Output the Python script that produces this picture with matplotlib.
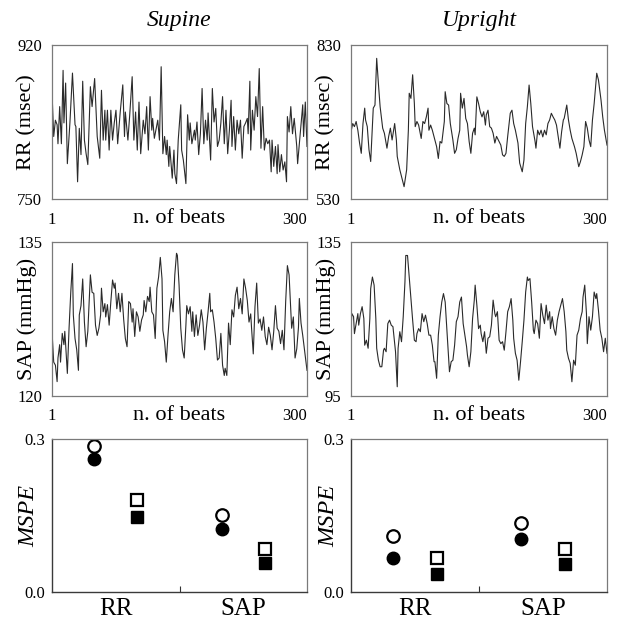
#!/usr/bin/env python3

import matplotlib
matplotlib.use('Agg')
import matplotlib.pyplot as plt

plt.rcParams['font.family'] = ['Liberation Serif', 'DejaVu Serif']

# --- time series (beat index, value) ---
rr_supine_beat = [1, 3, 5, 7, 8, 10, 12, 14, 15, 17, 19, 22, 25, 28, 29, 31, 33, 35, 37, 39,
                  41, 43, 46, 48, 51, 54, 57, 59, 61, 63, 64, 66, 68, 70, 72, 74, 76, 78, 81, 84,
                  86, 87, 90, 92, 95, 97, 99, 101, 103, 105, 108, 110, 112, 114, 116, 118, 119, 121, 125, 127,
                  129, 131, 133, 135, 136, 138, 139, 142, 144, 145, 147, 149, 152, 153, 155, 158, 160, 162, 163, 165,
                  168, 169, 171, 173, 175, 177, 179, 181, 183, 184, 187, 189, 191, 193, 195, 197, 199, 201, 203, 205,
                  207, 209, 211, 212, 214, 216, 218, 220, 222, 224, 226, 228, 230, 231, 233, 234, 236, 238, 240, 242,
                  244, 246, 248, 250, 252, 254, 256, 258, 259, 261, 263, 265, 266, 268, 270, 272, 274, 276, 277, 279,
                  281, 283, 285, 288, 289, 291, 293, 295, 296, 298, 300]
rr_supine = [868, 819, 837, 832, 811, 852, 811, 892, 834, 878, 789, 834, 889, 832, 830, 769, 828, 799, 880, 815,
             800, 788, 874, 852, 883, 819, 795, 870, 815, 848, 815, 848, 804, 848, 815, 834, 848, 811, 846, 876,
             819, 846, 815, 841, 885, 815, 846, 804, 857, 800, 837, 822, 852, 804, 863, 826, 839, 817, 837, 815,
             896, 800, 819, 799, 815, 786, 808, 773, 804, 778, 767, 815, 854, 804, 793, 767, 843, 815, 834, 811,
             826, 815, 835, 799, 822, 872, 811, 837, 815, 845, 793, 872, 835, 850, 808, 815, 834, 863, 811, 848,
             800, 826, 859, 808, 841, 804, 837, 822, 837, 795, 830, 834, 839, 822, 880, 804, 848, 826, 863, 841,
             894, 806, 852, 804, 817, 811, 815, 780, 815, 786, 808, 778, 810, 780, 799, 782, 791, 769, 841, 824,
             852, 822, 839, 808, 789, 811, 834, 854, 819, 857, 808]

rr_upright_beat = [1, 3, 5, 7, 9, 11, 13, 15, 17, 18, 20, 22, 24, 27, 29, 31, 33, 35, 38, 40,
                   43, 45, 47, 49, 52, 54, 55, 58, 61, 63, 66, 68, 69, 71, 73, 75, 76, 78, 80, 83,
                   85, 87, 89, 91, 92, 94, 96, 98, 101, 103, 105, 107, 110, 111, 113, 115, 117, 120, 122, 124,
                   126, 128, 129, 131, 133, 135, 137, 139, 141, 143, 145, 146, 148, 150, 152, 154, 156, 158, 159, 161,
                   163, 165, 167, 169, 171, 173, 176, 178, 180, 182, 184, 187, 189, 191, 193, 196, 198, 201, 203, 205,
                   207, 209, 211, 213, 216, 217, 219, 221, 223, 225, 227, 229, 231, 233, 235, 237, 239, 241, 243, 245,
                   247, 249, 250, 253, 255, 257, 259, 262, 264, 267, 269, 271, 273, 275, 277, 279, 281, 283, 285, 288,
                   290, 293, 295, 297, 300]
rr_upright = [661, 677, 671, 681, 664, 639, 619, 677, 707, 684, 671, 626, 603, 707, 713, 804, 755, 710, 668, 658,
              629, 652, 668, 645, 677, 645, 613, 587, 567, 554, 587, 664, 736, 726, 772, 716, 671, 681, 674, 648,
              681, 677, 690, 707, 664, 674, 664, 651, 632, 609, 642, 639, 681, 739, 716, 713, 677, 645, 619, 626,
              648, 664, 736, 707, 726, 687, 677, 642, 619, 658, 668, 655, 729, 716, 700, 690, 700, 674, 694, 703,
              671, 668, 658, 639, 652, 645, 635, 616, 613, 619, 652, 697, 703, 677, 664, 639, 600, 583, 606, 677,
              710, 752, 716, 671, 642, 629, 664, 655, 664, 651, 664, 655, 677, 684, 697, 690, 684, 674, 651, 629,
              661, 684, 687, 713, 684, 664, 648, 632, 619, 593, 603, 616, 632, 681, 668, 645, 632, 684, 716, 775,
              762, 723, 690, 664, 635]

sap_supine_beat = [1, 3, 5, 7, 8, 10, 11, 13, 15, 16, 17, 19, 21, 23, 25, 26, 28, 30, 32, 33,
                   35, 37, 39, 41, 43, 45, 46, 48, 50, 52, 54, 56, 58, 59, 61, 63, 64, 66, 68, 70,
                   72, 74, 75, 77, 79, 81, 83, 85, 87, 89, 91, 93, 95, 96, 98, 100, 102, 104, 106, 108,
                   109, 111, 113, 115, 116, 118, 120, 122, 124, 126, 128, 130, 131, 133, 135, 137, 139, 141, 143, 145,
                   147, 148, 150, 152, 154, 156, 158, 159, 161, 163, 165, 166, 168, 170, 172, 174, 176, 178, 180, 182,
                   184, 186, 187, 189, 191, 193, 195, 197, 199, 201, 203, 204, 206, 208, 210, 212, 214, 216, 218, 220,
                   222, 224, 226, 228, 230, 232, 234, 235, 237, 239, 241, 243, 245, 247, 249, 251, 253, 255, 257, 259,
                   261, 263, 265, 267, 269, 271, 273, 275, 277, 279, 280, 282, 284, 286, 288, 290, 291, 293, 295, 300]
sap_supine = [126.3, 123.3, 123.0, 121.4, 123.7, 125.0, 123.3, 126.1, 125.0, 126.3, 125.0, 122.2, 126.6, 130.1, 132.9, 127.9, 125.6, 124.5, 122.5, 127.9,
              128.8, 131.4, 127.2, 124.8, 126.3, 130.1, 131.8, 130.1, 130.0, 126.9, 125.9, 126.6, 127.9, 130.5, 128.2, 129.0, 127.7, 128.9, 126.9, 129.2,
              131.3, 130.5, 131.0, 128.5, 130.0, 128.2, 130.0, 127.5, 125.6, 124.8, 129.2, 129.0, 127.2, 128.5, 125.8, 128.2, 127.7, 126.3, 127.4, 127.9,
              129.3, 128.2, 129.7, 129.2, 130.6, 128.2, 127.9, 125.6, 130.5, 131.6, 133.5, 131.4, 126.4, 125.3, 123.3, 125.9, 128.2, 129.5, 128.2, 131.8,
              133.9, 133.7, 130.8, 126.6, 124.5, 123.7, 126.9, 128.8, 128.0, 128.7, 126.3, 128.2, 125.8, 127.9, 125.9, 126.9, 128.4, 127.2, 124.5, 126.6,
              128.2, 130.0, 128.2, 128.4, 127.2, 125.6, 123.5, 123.7, 126.1, 123.0, 122.0, 122.7, 122.0, 127.1, 125.0, 128.4, 127.7, 129.8, 130.6, 128.5,
              129.5, 128.0, 131.4, 130.5, 129.3, 127.2, 128.0, 126.6, 124.1, 128.7, 131.0, 127.1, 127.5, 126.4, 127.7, 125.8, 125.0, 126.7, 125.9, 124.5,
              126.3, 128.8, 126.6, 126.3, 125.1, 126.4, 124.5, 129.2, 132.7, 131.8, 130.1, 126.6, 127.7, 123.7, 124.6, 126.7, 129.5, 127.1, 125.9, 122.5]

sap_upright_beat = [1, 2, 4, 5, 7, 9, 10, 12, 14, 16, 17, 19, 21, 23, 24, 26, 28, 30, 31, 33,
                    35, 37, 39, 40, 42, 44, 46, 48, 50, 51, 53, 55, 56, 58, 60, 62, 64, 65, 67, 69,
                    71, 73, 75, 77, 78, 80, 82, 84, 86, 88, 90, 92, 94, 96, 98, 99, 101, 103, 105, 107,
                    109, 111, 113, 115, 116, 118, 120, 122, 124, 126, 128, 130, 132, 134, 136, 137, 139, 141, 143, 145,
                    146, 148, 150, 152, 153, 155, 157, 159, 161, 163, 165, 167, 169, 170, 172, 174, 176, 178, 180, 182,
                    184, 186, 188, 190, 191, 193, 195, 197, 199, 201, 203, 205, 207, 208, 210, 212, 214, 215, 217, 219,
                    221, 223, 225, 227, 229, 231, 233, 234, 236, 238, 240, 242, 244, 246, 248, 250, 252, 253, 255, 257,
                    259, 261, 263, 265, 267, 269, 271, 272, 274, 276, 277, 279, 281, 283, 285, 287, 288, 290, 292, 294,
                    296, 298, 300]
sap_upright = [112.5, 116.4, 115.6, 111.2, 113.8, 116.4, 113.4, 116.4, 118.2, 115.1, 108.2, 109.5, 107.4, 115.1, 122.9, 125.9, 123.8, 115.1, 107.4, 104.3,
               102.6, 102.6, 106.9, 107.4, 106.5, 113.8, 114.7, 113.4, 113.0, 110.8, 106.5, 97.4, 107.4, 111.7, 109.1, 115.6, 124.6, 131.5, 131.5, 125.9,
               120.3, 114.7, 109.5, 109.1, 111.2, 112.5, 111.7, 116.4, 114.3, 116.0, 113.8, 110.8, 110.8, 108.2, 103.9, 103.9, 99.6, 110.8, 115.6, 119.4,
               121.6, 119.4, 112.1, 105.2, 101.3, 103.9, 104.3, 108.2, 114.3, 115.6, 119.4, 120.7, 113.8, 110.8, 107.8, 105.6, 102.6, 106.5, 115.1, 119.9,
               123.8, 118.6, 112.5, 113.4, 111.2, 109.1, 111.7, 106.1, 110.0, 110.4, 113.4, 119.9, 116.4, 115.6, 116.9, 109.5, 108.6, 109.1, 106.9, 111.7,
               116.9, 118.2, 120.3, 114.7, 110.0, 106.1, 104.3, 99.1, 103.9, 109.1, 114.7, 122.0, 125.9, 125.0, 125.5, 119.4, 112.1, 111.2, 114.7, 113.8,
               110.0, 119.0, 116.0, 113.8, 118.6, 114.7, 116.9, 112.5, 115.6, 112.5, 110.8, 114.7, 116.9, 118.6, 120.3, 116.9, 111.7, 106.9, 104.8, 103.5,
               98.7, 104.3, 103.0, 110.8, 112.1, 115.1, 116.9, 120.7, 123.8, 116.4, 108.6, 115.6, 112.1, 115.6, 122.0, 120.3, 121.6, 117.3, 112.1, 110.0,
               106.5, 110.0, 106.1]

# --- MSPE values (open = first estimate, filled = second) ---
categories = ['RR', 'SAP']
mspe_sup_circle_open = [0.286, 0.151]
mspe_sup_circle_fill = [0.260, 0.123]
mspe_sup_square_open = [0.181, 0.084]
mspe_sup_square_fill = [0.148, 0.056]
mspe_upr_circle_open = [0.109, 0.136]
mspe_upr_circle_fill = [0.066, 0.104]
mspe_upr_square_open = [0.066, 0.084]
mspe_upr_square_fill = [0.036, 0.055]

W, H = 629, 621
fig = plt.figure(figsize=(W / 100, H / 100), dpi=100)

def box(x0, y0, x1, y1):
    return fig.add_axes([x0 / W, 1 - y1 / H, (x1 - x0) / W, (y1 - y0) / H])

LINE = '#2a2a2a'
SPINE = '#7a7a7a'
TICK_FS = 12


def series_panel(ax, beats, values, ylim, ylabel, title=None):
    ax.plot(beats, values, color=LINE, lw=0.8)
    ax.set_xlim(1, 300)
    ax.set_ylim(*ylim)
    ax.set_xticks([1, 300])
    ax.set_xticklabels(['1', '300'])
    ax.set_yticks(list(ylim))
    ax.set_yticklabels([str(v) for v in ylim])
    ax.tick_params(axis='both', length=0, labelsize=TICK_FS)
    ax.tick_params(axis='x', pad=9)
    ax.tick_params(axis='y', pad=7)
    ax.get_xticklabels()[1].set_horizontalalignment('right')
    for s in ax.spines.values():
        s.set_color(SPINE)
        s.set_linewidth(0.9)
    ax.set_xlabel('n. of beats', fontsize=16)
    ax.xaxis.set_label_coords(0.5, -0.065)
    ax.set_ylabel(ylabel, fontsize=16)
    ax.yaxis.set_label_coords(-0.06, 0.5)
    if title:
        ax.set_title(title, fontsize=17, style='italic', pad=14)


def mspe_panel(ax, co, cf, so, sf):
    xc = [0.33, 1.33]
    xs = [0.67, 1.67]
    ax.plot(xc, co, 'o', ms=9, mfc='white', mec='black', mew=1.6, ls='none')
    ax.plot(xc, cf, 'o', ms=9, mfc='black', mec='black', ls='none')
    ax.plot(xs, so, 's', ms=8.5, mfc='white', mec='black', mew=1.6, ls='none')
    ax.plot(xs, sf, 's', ms=8.5, mfc='black', mec='black', ls='none')
    ax.set_xlim(0, 2)
    ax.set_ylim(0, 0.3)
    ax.set_yticks([0.0, 0.3])
    ax.set_yticklabels(['0.0', '0.3'])
    ax.tick_params(axis='y', length=0, labelsize=TICK_FS, pad=5)
    ax.set_xticks([1])
    ax.set_xticklabels([''])
    ax.tick_params(axis='x', direction='in', length=4, color='#333333')
    for i, c in enumerate(categories):
        ax.text(0.5 + i, -0.012, c, ha='center', va='top', fontsize=18,
                transform=ax.transData)
    for side in ['top', 'right']:
        ax.spines[side].set_color(SPINE)
        ax.spines[side].set_linewidth(0.9)
    for side in ['left', 'bottom']:
        ax.spines[side].set_color('#3a3a3a')
        ax.spines[side].set_linewidth(1.0)
    ax.set_ylabel('MSPE', fontsize=17.5, style='italic')


ax1 = box(52, 45, 307, 199)
series_panel(ax1, rr_supine_beat, rr_supine, (750, 920), 'RR (msec)', 'Supine')
ax2 = box(351, 45, 607, 199)
series_panel(ax2, rr_upright_beat, rr_upright, (530, 830), 'RR (msec)', 'Upright')
ax3 = box(52, 242, 307, 396)
series_panel(ax3, sap_supine_beat, sap_supine, (120, 135), 'SAP (mmHg)')
ax4 = box(351, 242, 607, 396)
series_panel(ax4, sap_upright_beat, sap_upright, (95, 135), 'SAP (mmHg)')

ax5 = box(52, 439, 307, 592)
mspe_panel(ax5, mspe_sup_circle_open, mspe_sup_circle_fill, mspe_sup_square_open, mspe_sup_square_fill)
ax5.yaxis.set_label_coords(-0.05, 0.5)
ax6 = box(351, 439, 607, 592)
mspe_panel(ax6, mspe_upr_circle_open, mspe_upr_circle_fill, mspe_upr_square_open, mspe_upr_square_fill)
ax6.yaxis.set_label_coords(-0.045, 0.5)

fig.savefig('out.png', dpi=100)
